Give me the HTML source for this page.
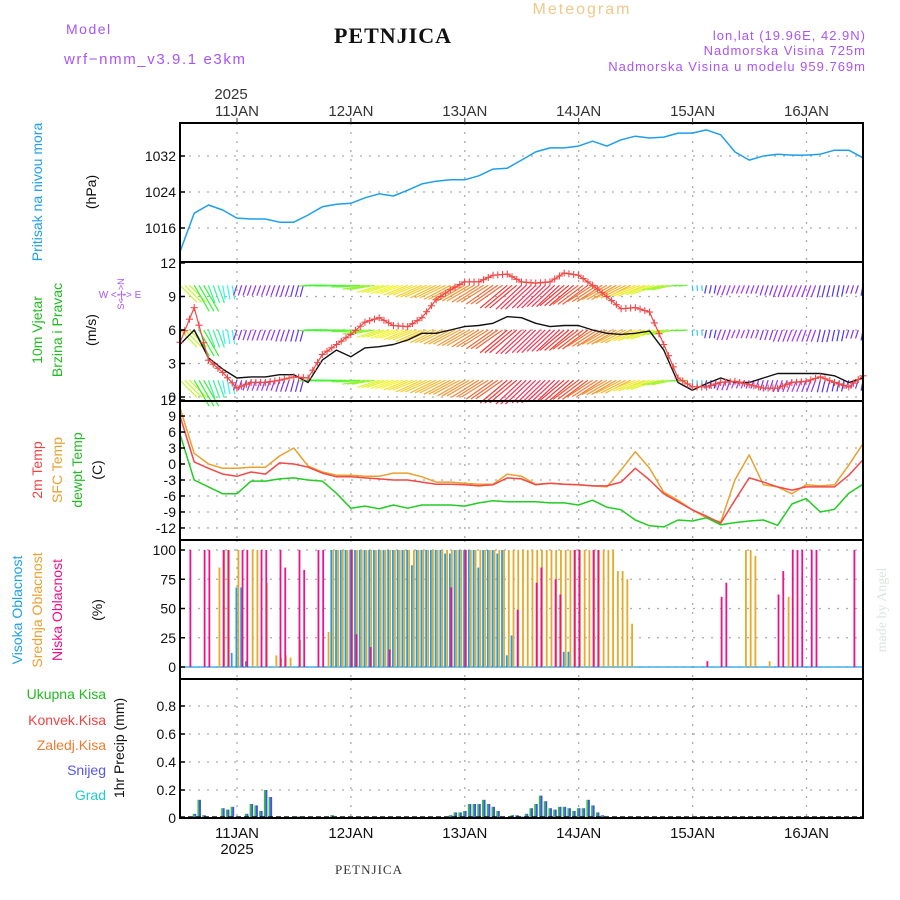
<!DOCTYPE html>
<html><head><meta charset="utf-8"><style>
body{margin:0;background:#fff;}
svg{display:block;font-family:"Liberation Sans",sans-serif;}
</style></head><body>
<svg id="chart" width="900" height="900" viewBox="0 0 900 900">
<g id="grid"></g>
<g id="marks"></g>
<g id="frames"></g>
<g id="labels">
<text x="582" y="14" text-anchor="middle" font-size="16" fill="#f2c88a" letter-spacing="2">Meteogram</text>
<text x="393" y="43" text-anchor="middle" font-size="22" font-weight="bold" font-family="Liberation Serif,serif" fill="#111" letter-spacing="1">PETNJICA</text>
<text x="66" y="34" font-size="14" fill="#a855f7" letter-spacing="1.5">Model</text>
<text x="64" y="64" font-size="15" fill="#a855f7" letter-spacing="1.6">wrf−nmm_v3.9.1 e3km</text>
<text x="866" y="40" text-anchor="end" font-size="13" fill="#a855f7" letter-spacing="1">lon,lat (19.96E, 42.9N)</text>
<text x="866" y="55" text-anchor="end" font-size="13" fill="#a855f7" letter-spacing="1">Nadmorska Visina 725m</text>
<text x="866" y="71" text-anchor="end" font-size="13" fill="#a855f7" letter-spacing="1">Nadmorska Visina u modelu 959.769m</text>
<text x="231" y="99" text-anchor="middle" font-size="15" fill="#333">2025</text>
<text x="237" y="838" text-anchor="middle" font-size="15" fill="#111">11JAN</text>
<text x="237" y="854" text-anchor="middle" font-size="15" fill="#111">2025</text>
<text x="369" y="874" text-anchor="middle" font-size="13" font-family="Liberation Serif,serif" fill="#333" letter-spacing="1">PETNJICA</text>
<text transform="translate(886,610) rotate(-90)" text-anchor="middle" font-size="14" font-family="Liberation Serif,serif" fill="#dde4de">made by Angel</text>
<text transform="translate(42,192) rotate(-90)" text-anchor="middle" font-size="14" fill="#1e9fe8">Pritisak na nivou mora</text>
<text transform="translate(96,192) rotate(-90)" text-anchor="middle" font-size="14" fill="#111">(hPa)</text>
<text transform="translate(42,330) rotate(-90)" text-anchor="middle" font-size="14" fill="#22bb22">10m Vjetar</text>
<text transform="translate(62,330) rotate(-90)" text-anchor="middle" font-size="14" fill="#22bb22">Brzina i Pravac</text>
<text transform="translate(96,330) rotate(-90)" text-anchor="middle" font-size="14" fill="#111">(m/s)</text>
<text transform="translate(124,294) rotate(-90)" text-anchor="middle" font-size="9" fill="#a855f7">S&lt;-|-&gt;N</text>
<text x="120" y="298" text-anchor="middle" font-size="10" fill="#a855f7">W &lt;-|-&gt; E</text>
<text transform="translate(42,470) rotate(-90)" text-anchor="middle" font-size="14" fill="#ee4444">2m Temp</text>
<text transform="translate(62,470) rotate(-90)" text-anchor="middle" font-size="14" fill="#e8a030">SFC Temp</text>
<text transform="translate(82,470) rotate(-90)" text-anchor="middle" font-size="14" fill="#22bb22">dewpt Temp</text>
<text transform="translate(102,470) rotate(-90)" text-anchor="middle" font-size="14" fill="#111">(C)</text>
<text transform="translate(22,610) rotate(-90)" text-anchor="middle" font-size="14" fill="#1e9fe8">Visoka Oblacnost</text>
<text transform="translate(42,610) rotate(-90)" text-anchor="middle" font-size="14" fill="#e8a030">Srednja Oblacnost</text>
<text transform="translate(62,610) rotate(-90)" text-anchor="middle" font-size="14" fill="#ee1188">Niska Oblacnost</text>
<text transform="translate(102,610) rotate(-90)" text-anchor="middle" font-size="14" fill="#111">(%)</text>
<text x="106" y="699" text-anchor="end" font-size="14" fill="#22bb22">Ukupna Kisa</text>
<text x="106" y="725" text-anchor="end" font-size="14" fill="#ee4444">Konvek.Kisa</text>
<text x="106" y="750" text-anchor="end" font-size="14" fill="#f07c30">Zaledj.Kisa</text>
<text x="106" y="775" text-anchor="end" font-size="14" fill="#5555ee">Snijeg</text>
<text x="106" y="800" text-anchor="end" font-size="14" fill="#22cccc">Grad</text>
<text transform="translate(124,748) rotate(-90)" text-anchor="middle" font-size="14" fill="#111">1hr Precip (mm)</text>
</g>
</svg>
<script>
// ---- data ----
var dayLabels = ["11JAN","12JAN","13JAN","14JAN","15JAN","16JAN"];
var pressure = [1010.7,1019.3,1021.1,1020,1018.2,1018,1018,1017.3,1017.3,1018.9,1020.7,1021.3,1021.5,1022.7,1023.6,1023.1,1024.4,1025.8,1026.4,1026.7,1026.7,1027.6,1029.1,1029.3,1031.1,1032.9,1033.8,1033.8,1034.2,1035.3,1034.2,1035.6,1036.4,1036,1036.2,1037.1,1037.1,1037.8,1036.7,1032.9,1031.1,1032,1032.4,1032.2,1032.2,1032.4,1033.3,1033.3,1031.6];
var pressureTicks = [1016,1024,1032];
var windSpeed = [4.7,6.0,3.5,2.5,1.7,1.8,1.8,2.0,2.0,1.3,3.3,4.2,3.6,4.4,4.5,4.7,5.1,5.7,5.7,6.0,6.3,6.4,6.6,7.2,7.1,6.6,6.3,6.4,6.4,6.0,5.7,5.6,5.7,5.9,4.2,1.3,0.6,1.2,1.7,1.3,1.3,1.7,2.1,2.1,2.1,2.1,1.9,1.3,1.7];
var windGust = [4.9,8.0,3.3,2.2,0.8,1.3,1.3,1.5,1.8,1.7,3.8,4.7,5.6,6.7,7.1,6.4,6.3,7.1,8.7,9.6,10.3,10.3,10.9,11.0,10.3,10.2,10.3,11.1,10.9,10.0,9.0,7.9,8.0,7.6,4.7,1.7,0.9,0.9,1.3,1.4,1.1,0.8,0.8,1.3,1.4,1.8,1.3,0.9,1.9];
var windDir = [315,330,340,350,18,20,20,18,15,85,90,88,85,80,72,70,68,66,64,62,60,58,55,50,47,46,47,50,53,57,60,63,68,72,78,85,355,12,20,22,20,18,20,22,20,14,12,18,10];
var windTicks = [0,3,6,9,12];
var windRows = [10,6,1.5];
var temp2m = [9,0.4,-0.8,-1.9,-2.3,-1.5,-1.9,0.2,0,-0.6,-1.7,-2.4,-2.4,-2.6,-2.8,-3.0,-3.0,-3.4,-3.8,-3.8,-3.9,-4.1,-3.9,-2.6,-2.8,-3.9,-3.6,-3.8,-3.9,-4.1,-4.1,-3.4,-0.8,-3.0,-5.6,-7.1,-8.6,-9.8,-11.1,-6.8,-2.6,-3.4,-4.3,-4.9,-4.3,-4.3,-4.3,-2.1,0.8];
var tempSfc = [10.5,2,0,-0.8,-0.8,-0.6,-0.6,1.5,3.0,-0.4,-1.5,-2.1,-2.1,-2.3,-2.3,-1.7,-1.7,-2.4,-3.4,-3.4,-3.6,-3.8,-3.8,-1.9,-2.3,-3.8,-3.6,-3.8,-3.9,-4.1,-4.3,-1.1,2.3,-0.8,-5.3,-6.8,-8.6,-10.1,-10.9,-3.0,1.7,-3.9,-4.3,-5.6,-3.9,-4.1,-3.9,-0.2,3.8];
var tempDew = [5.6,-3.0,-4.3,-5.6,-5.6,-3.2,-3.2,-2.8,-2.6,-3.0,-3.2,-5.5,-8.3,-7.9,-8.4,-7.7,-8.3,-7.7,-7.7,-7.7,-7.9,-7.3,-6.9,-7.1,-7.1,-7.1,-7.3,-7.3,-7.7,-6.8,-8.1,-8.6,-10.5,-11.6,-11.8,-10.5,-10.7,-10.1,-11.4,-11.0,-10.7,-10.5,-11.5,-7.5,-6.5,-9.0,-8.5,-5.5,-3.8];
var tempTicks = [12,9,6,3,0,-3,-6,-9,-12];
var lowHours = [2,5,6,9,10,13,14,17,18,21,22,25,26,29,30,36,37,40,44,57,60,71,75,76,79,80,83,84,87,88,111,114,115,126,127,129,130,131,133,134,142];
var lowVals  = [100,100,100,100,100,100,100,100,100,100,85,100,83,100,100,100,28,17,15,68,100,49,72,85,75,62,100,100,100,100,5,60,72,62,82,100,100,100,100,100,100];
var midHours = [8,9,10,12,15,16,18,20,21,22,23,25,31,32,33,34,35,36,37,38,39,40,41,42,43,44,45,46,47,48,49,50,51,52,53,54,55,56,57,58,59,60,61,62,63,64,65,66,67,68,69,70,71,72,73,74,75,76,77,78,79,80,81,82,83,84,85,86,87,88,89,90,91,92,93,94,95,119,120,121,124,128];
var midVals  = [85,100,100,100,100,100,72,10,8,10,8,23,30,100,100,100,100,100,100,100,100,100,100,100,100,100,100,100,100,100,100,100,100,100,100,100,100,100,100,100,100,100,100,100,100,100,100,100,100,100,100,100,100,100,100,100,100,100,100,100,100,100,100,100,100,100,100,100,100,100,100,100,100,82,82,75,37,100,100,95,5,60];
var highHours = [11,12,13,14,32,33,34,35,36,37,38,39,40,41,42,43,44,45,46,47,48,49,50,51,52,53,54,55,56,57,58,59,60,61,62,63,64,65,66,67,68,69,70,81,82];
var highVals  = [12,68,68,5,100,100,100,100,100,100,100,100,100,100,100,100,100,100,100,100,100,87,100,100,100,100,100,100,97,97,100,100,100,100,100,85,100,100,100,97,100,10,27,13,13];
var cloudTicks = [0,25,50,75,100];
var precipHours = [2,3,4,5,9,10,11,12,14,15,16,17,18,19,24,25,32,34,57,58,59,60,61,62,63,64,65,66,67,70,71,72,73,74,75,76,77,78,79,80,81,82,83,84,85,86,87,88,89,90];
var precipVals  = [0.005,0.03,0.13,0.02,0.07,0.06,0.08,0.01,0.03,0.10,0.09,0.05,0.20,0.15,0.01,0.01,0.02,0.01,0.02,0.04,0.04,0.05,0.10,0.10,0.10,0.13,0.10,0.08,0.05,0.02,0.02,0.01,0.03,0.07,0.10,0.16,0.12,0.07,0.06,0.08,0.08,0.07,0.05,0.07,0.07,0.13,0.09,0.04,0.02,0.01];
var precipTicks = [0,0.2,0.4,0.6,0.8];

// ---- geometry ----
var NS="http://www.w3.org/2000/svg";
var X0=180,X1=863;
function xStep(i){return X0+i*(X1-X0)/48;}
function xHour(h){return X0+h*(X1-X0)/144;}
function xDay(d){return 237+d*113.9;}
var P={p:[123,262],w:[262,401],t:[401,540],c:[540,679],r:[679,818]};
function yP(v){return 228-(v-1016)*4.5;}
function yW(v){return 397-v*11.17;}
function yT(v){return 464-v*5.33;}
function yC(v){return 667-v*1.17;}
function yR(v){return 818-v*140;}
function el(tag,attrs,parent){var e=document.createElementNS(NS,tag);for(var k in attrs)e.setAttribute(k,attrs[k]);parent.appendChild(e);return e;}
var grid=document.getElementById('grid'),marks=document.getElementById('marks'),frames=document.getElementById('frames'),labels=document.getElementById('labels');
var dot={stroke:"#aaa","stroke-width":1.3,"stroke-dasharray":"2,7"};

for(var k in P){
  for(var d=0;d<6;d++){
    var l=el('line',Object.assign({x1:xDay(d),x2:xDay(d),y1:P[k][0],y2:P[k][1]},dot),grid);
    
    
  }
}
function hgrid(ticks,fy,fmt,top,bot){
  ticks.forEach(function(t){
    var y=fy(t);
    if(y>top+2&&y<bot-2){
      var g=el('line',Object.assign({x1:X0,x2:X1,y1:y,y2:y},dot),grid);
      
      
    }
    var tk=el('line',{x1:X0,x2:X0+5,y1:y,y2:y,stroke:"#000","stroke-width":1.5},frames);
    
    
    var tx=el('text',{x:176,y:y+5,"text-anchor":"end","font-size":14,fill:"#111"},labels);
    tx.textContent=fmt(t);
    
    
  });
}
hgrid(pressureTicks,yP,String,123,262);
hgrid(windTicks,yW,String,262,401);
hgrid(tempTicks,yT,String,401,540);
hgrid(cloudTicks,yC,String,540,679);
hgrid(precipTicks,yR,function(v){return v===0?"0":v.toFixed(1);},679,818);

for(var k in P){
  var r=el('rect',{x:X0,y:P[k][0],width:X1-X0,height:P[k][1]-P[k][0],fill:"none",stroke:"#000","stroke-width":2},frames);
  
  
}
dayLabels.forEach(function(s,d){
  var t=el('text',{x:xDay(d),y:116,"text-anchor":"middle","font-size":15,fill:"#333"},labels);
  t.textContent=s;
  
  
  el('line',{x1:xDay(d),x2:xDay(d),y1:118,y2:123,stroke:"#333"},frames);
  if(d>0){
    var b=el('text',{x:xDay(d),y:838,"text-anchor":"middle","font-size":15,fill:"#111"},labels);
    b.textContent=s;
    
    
  }
});

function line(arr,fy,color,name,w){
  var d=arr.map(function(v,i){return (i?"L":"M")+xStep(i).toFixed(1)+","+fy(v).toFixed(1);}).join("");
  var p=el('path',{d:d,fill:"none",stroke:color,"stroke-width":w||1.5,"stroke-linejoin":"round"},marks);
  
  
  return p;
}
line(pressure,yP,"#1e9fe8","pressure-line");

function hueOf(dir){return ((dir*3-150)%360+360)%360;}
for(var i=0;i<windDir.length;i++){
  var to=(windDir[i]+180)*Math.PI/180, L=3+windSpeed[i]*4.5;
  for(var s=0;s<3;s++){
    var cy=yW(windRows[s]);
    for(var sub=0;sub<3;sub++){
      var x=xStep(i)+sub*(X1-X0)/144; if(x>X1)continue;
      var ex=x+Math.sin(to)*L, ey=cy-Math.cos(to)*L;
      var a=el('line',{x1:x,y1:cy,x2:ex,y2:ey,stroke:"hsl("+hueOf(windDir[i])+",90%,58%)","stroke-width":1.2},marks);
      
      
    }
  }
}
line(windSpeed,yW,"#111","wind-speed-line",1.4);
line(windGust,yW,"#f24848","wind-gust-line",1.2);
windGust.forEach(function(v,i){
  for(var sub=0;sub<3;sub++){
    var x=xStep(i)+sub*(X1-X0)/144; if(x>X1)continue;
    var y=yW(v+(i<48?(windGust[i+1]-v)*sub/3:0));
    var m=el('path',{d:"M"+(x-3.5)+","+y+"h7M"+x+","+(y-3.5)+"v7",stroke:"#f24848","stroke-width":1.1},marks);
    
    
  }
});

line(tempSfc,yT,"#e8a030","sfc-temp-line");
line(temp2m,yT,"#f24848","temp-2m-line");
line(tempDew,yT,"#22cc22","dewpoint-line");

function bars(hours,vals,off,color,name){
  hours.forEach(function(h,j){
    var x=xHour(h)+off, y=yC(vals[j]);
    var b=el('rect',{x:x,y:y,width:1.8,height:yC(0)-y,fill:color},marks);
    
    
  });
}
el('line',{x1:X0,x2:X1,y1:yC(0),y2:yC(0),stroke:"#1e9fe8","stroke-width":1.2},marks);
bars(midHours,midVals,0.6,"#e8a828","mid-cloud-bar");
bars(highHours,highVals,-1.4,"#1e9fe8","high-cloud-bar");
bars(lowHours,lowVals,0,"#ee1188","low-cloud-bar");

precipHours.forEach(function(h,j){
  var x=xHour(h)-1.5, y=yR(precipVals[j]);
  var g=el('rect',{x:x,y:y,width:1.5,height:818-y,fill:"#22cc22"},marks);
  
  
  var s=el('rect',{x:x+1.5,y:y,width:2,height:818-y,fill:"#4a4ef0"},marks);
  
  
});
el('line',{x1:X0,x2:X1,y1:817,y2:817,stroke:"#111","stroke-width":1.5,"stroke-dasharray":"5,3"},marks);
</script>
</body></html>
